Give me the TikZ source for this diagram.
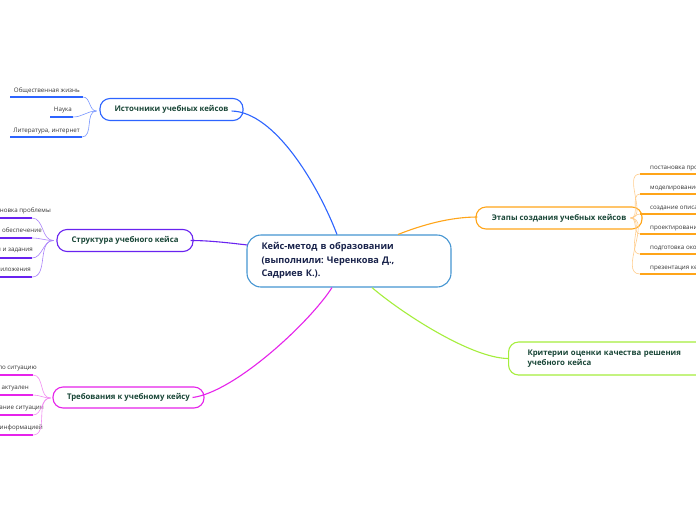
\documentclass[tikz,border=0pt]{standalone}
\usepackage{fontspec}
\setmainfont{Open Sans}
\frenchspacing
\definecolor{cblue}{RGB}{45,100,255}
\definecolor{lblue}{RGB}{120,150,255}
\definecolor{cpurple}{RGB}{105,35,240}
\definecolor{lpurple}{RGB}{170,130,250}
\definecolor{cmag}{RGB}{230,35,235}
\definecolor{lmag}{RGB}{242,140,242}
\definecolor{corange}{RGB}{255,165,25}
\definecolor{lorange}{RGB}{255,205,140}
\definecolor{cgreen}{RGB}{165,238,60}
\definecolor{cmain}{RGB}{70,150,210}
\definecolor{txtgreen}{RGB}{25,70,55}
\definecolor{txtnavy}{RGB}{25,35,75}
\definecolor{leafgray}{RGB}{55,55,55}
\begin{document}
\begin{tikzpicture}[x=1pt,y=-1pt,
  branch/.style={draw, rounded corners=10pt, line width=1.1pt, fill=white, text=txtgreen,
    font=\fontsize{7.8}{9}\selectfont\bfseries, inner sep=0pt, minimum height=22pt, align=center},
  mainbox/.style={draw=cmain, rounded corners=14pt, line width=1.1pt, fill=white, text=txtnavy,
    font=\fontsize{9.2}{13.5}\selectfont\bfseries, inner xsep=14.5pt, inner ysep=0pt,
    text width=175pt, align=left, minimum height=52pt},
  leaf/.style={font=\fontsize{6.2}{7.5}\selectfont, text=leafgray, inner sep=0pt},
  conn/.style={line width=1.1pt},
  subconn/.style={line width=0.6pt},
  uline/.style={line width=1.8pt}]
\useasboundingbox (0,0) rectangle (696,520);
\fill[white] (0,0) rectangle (696,520);

% ---------- nodes ----------
\node[mainbox] (main) at (349,261) {Кейс-метод в образовании\\(выполнили: Черенкова Д.,\\Садриев К.).};
\node[branch, draw=cblue, minimum width=143pt] (src) at (171.5,109.5) {Источники учебных кейсов};
\node[branch, draw=cpurple, minimum width=136pt] (str) at (125,240.5) {Структура учебного кейса};
\node[branch, draw=cmag, minimum width=151pt, minimum height=21pt] (req) at (128.5,397.5) {Требования к учебному кейсу};
\node[branch, draw=corange, minimum width=166pt] (stg) at (559,218) {Этапы создания учебных кейсов};
\node[branch, draw=cgreen, anchor=west, minimum width=198pt, minimum height=33pt,
      inner xsep=19pt, text width=160pt, align=left, font=\fontsize{7.8}{10.5}\selectfont\bfseries]
      (crit) at (508,358.5) {Критерии оценки качества решения\\учебного кейса};

% ---------- main connectors ----------
\draw[conn, cblue] ([xshift=-12pt]main.north) .. controls (318,185) and (275,112) .. ([xshift=-12pt,yshift=-1.5pt]src.east);
\draw[conn, cpurple] ([xshift=1pt,yshift=16pt]main.west) .. controls (230,243) and (210,240.5) .. ([xshift=-3pt]str.east);
\draw[conn, cmag] ([xshift=-17pt]main.south) .. controls (310,322) and (235,392) .. ([xshift=-12pt]req.east);
\draw[conn, corange] ([xshift=49pt]main.north) .. controls (422,225) and (450,217) .. ([xshift=2pt,yshift=1pt]stg.west);
\draw[conn, cgreen] ([xshift=23pt]main.south) .. controls (399,311) and (470,358) .. (crit.west);

% ---------- sources leaves ----------
\coordinate (srch) at ([xshift=-3pt,yshift=-1.5pt]src.west);
\node[leaf, anchor=mid east] (s1) at (80,90) {Общественная жизнь};
\node[leaf, anchor=mid east] (s2) at (72,109) {Наука};
\node[leaf, anchor=mid east] (s3) at (80,130) {Литература, интернет};
\coordinate (s1a) at (10,97);  \coordinate (s1b) at (83,97);
\coordinate (s2a) at (50,117); \coordinate (s2b) at (73,117);
\coordinate (s3a) at (10,137); \coordinate (s3b) at (82,137);
\foreach \i in {1,2,3}{
  \draw[uline, cblue] (s\i a) -- (s\i b);
  \draw[subconn, lblue] (srch) to[out=180,in=0] (s\i b);
}

% ---------- structure leaves ----------
\coordinate (strh) at ([xshift=-3pt]str.west);
\node[leaf, anchor=mid east] (t1) at (51,210) {Постановка проблемы};
\node[leaf, anchor=mid east] (t2) at (42,230) {Информационное обеспечение};
\node[leaf, anchor=mid east] (t3) at (33,249) {Вопросы и задания};
\node[leaf, anchor=mid east] (t4) at (31,269) {Приложения};
\coordinate (t1a) at (-5,218); \coordinate (t1b) at (32,218);
\coordinate (t2a) at (-5,238); \coordinate (t2b) at (32,238);
\coordinate (t3a) at (-5,258); \coordinate (t3b) at (32,258);
\coordinate (t4a) at (-5,277); \coordinate (t4b) at (32,277);
\foreach \i in {1,2,3,4}{
  \draw[uline, cpurple] (t\i a) -- (t\i b);
  \draw[subconn, lpurple] (strh) to[out=180,in=0] (t\i b);
}

% ---------- requirement leaves ----------
\coordinate (reqh) at ([xshift=-2pt,yshift=-0.5pt]req.west);
\node[leaf, anchor=mid east] (r1) at (37,367) {Описывало ситуацию};
\node[leaf, anchor=mid east] (r2) at (29,387) {Кейс актуален};
\node[leaf, anchor=mid east] (r3) at (44,407) {Описание ситуации};
\node[leaf, anchor=mid east] (r4) at (43,427) {Обеспечен информацией};
\coordinate (r1a) at (-5,375); \coordinate (r1b) at (33,375);
\coordinate (r2a) at (-5,395); \coordinate (r2b) at (33,395);
\coordinate (r3a) at (-5,415); \coordinate (r3b) at (33,415);
\coordinate (r4a) at (-5,435); \coordinate (r4b) at (33,435);
\foreach \i in {1,2,3,4}{
  \draw[uline, cmag] (r\i a) -- (r\i b);
  \draw[subconn, lmag] (reqh) to[out=180,in=0] (r\i b);
}

% ---------- stage leaves ----------
\coordinate (stgh) at ([xshift=-12pt]stg.east);
\node[leaf, anchor=mid west] (e1) at (650,167) {постановка проблемы};
\node[leaf, anchor=mid west] (e2) at (650,187) {моделирование ситуации};
\node[leaf, anchor=mid west] (e3) at (650,207) {создание описания};
\node[leaf, anchor=mid west] (e4) at (650,227) {проектирование};
\node[leaf, anchor=mid west] (e5) at (650,247) {подготовка окончательного варианта};
\node[leaf, anchor=mid west] (e6) at (650,267) {презентация кейса};
\coordinate (e1a) at (640,174); \coordinate (e1b) at (700,174);
\coordinate (e2a) at (640,194); \coordinate (e2b) at (700,194);
\coordinate (e3a) at (640,214); \coordinate (e3b) at (700,214);
\coordinate (e4a) at (640,234); \coordinate (e4b) at (700,234);
\coordinate (e5a) at (640,254); \coordinate (e5b) at (700,254);
\coordinate (e6a) at (640,274); \coordinate (e6b) at (700,274);
\foreach \i in {1,...,6}{
  \draw[uline, corange] (e\i a) -- (e\i b);
  \draw[subconn, lorange] (stgh) to[out=0,in=180] (e\i a);
}
\end{tikzpicture}
\end{document}
